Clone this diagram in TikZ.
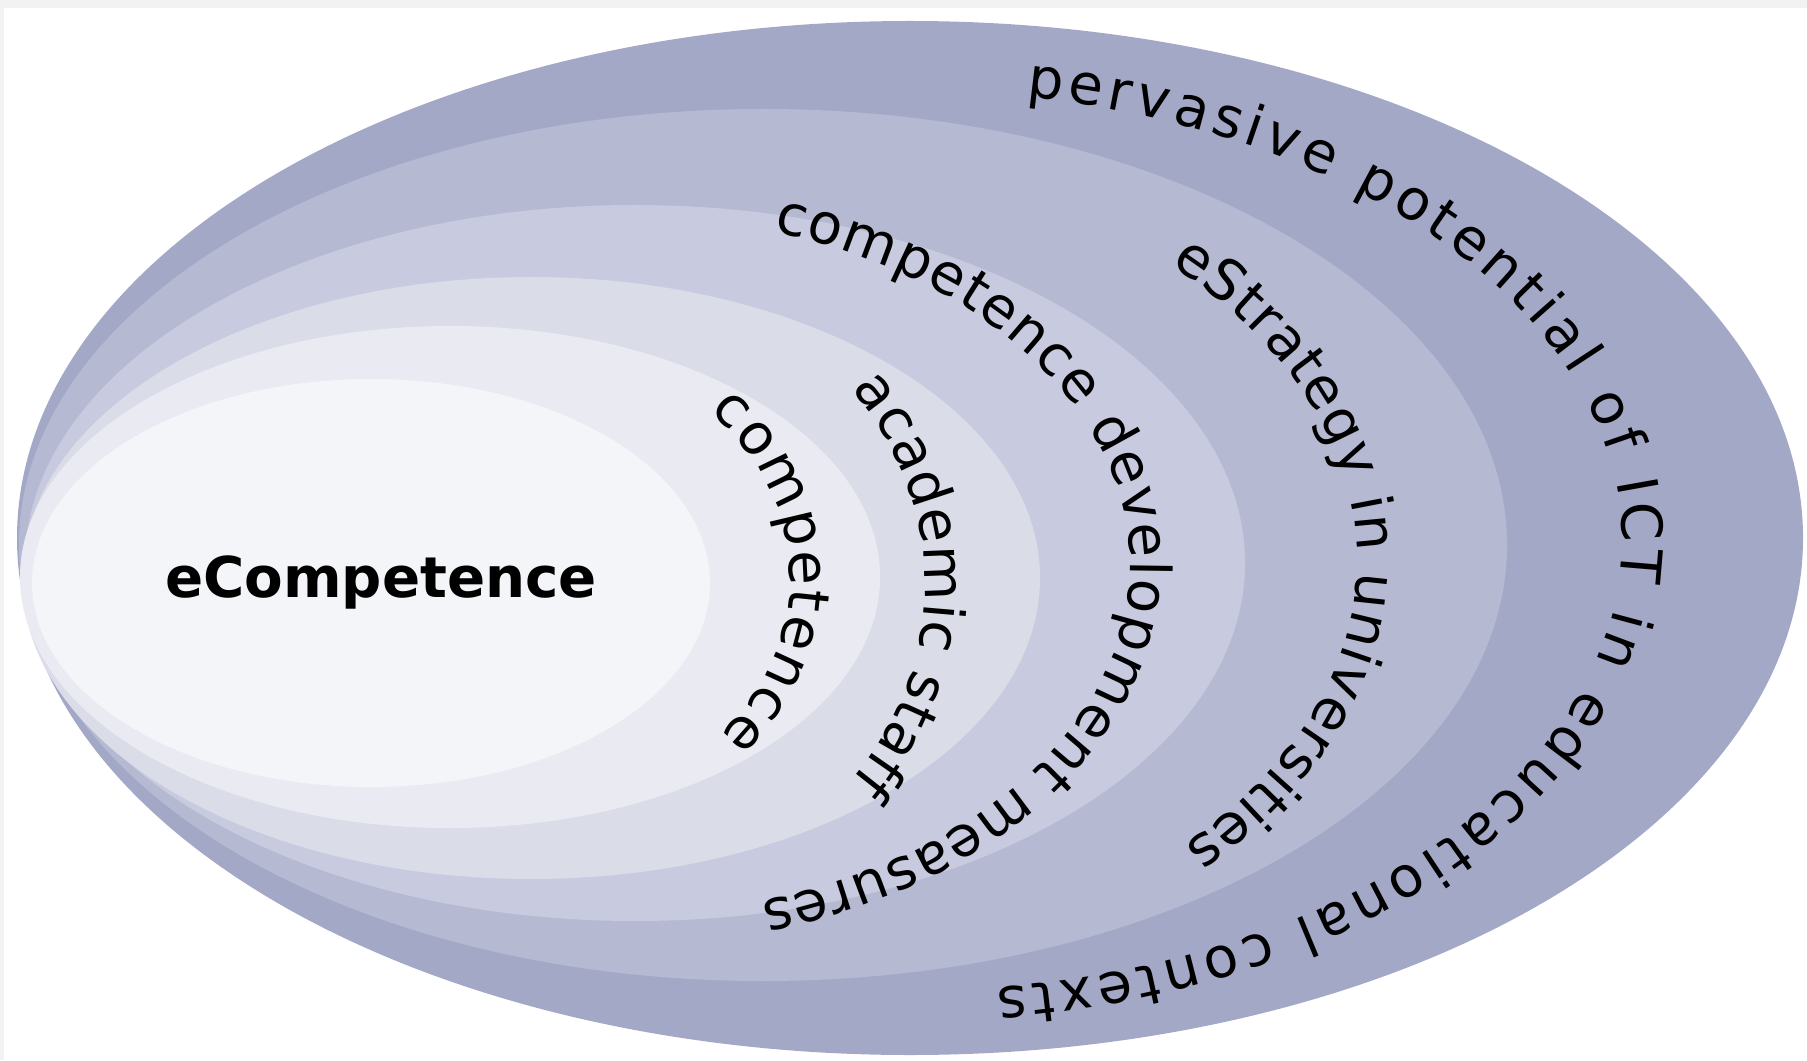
\documentclass[tikz,border=0pt]{standalone}
\usepackage{fontspec}
\setmainfont{DejaVu Sans}
\usetikzlibrary{decorations.text}
\definecolor{layerA}{HTML}{A4A8C7}
\definecolor{layerB}{HTML}{B5BAD2}
\definecolor{layerC}{HTML}{C8CBDF}
\definecolor{layerD}{HTML}{DADCE8}
\definecolor{layerE}{HTML}{EAEBF2}
\definecolor{layerF}{HTML}{F4F5F9}
\definecolor{frame}{HTML}{F2F2F2}
\newcommand\curvefont{\fontsize{16}{19}\selectfont}
\begin{document}
\begin{tikzpicture}[x=0.01cm, y=0.01cm,
  curved/.style={decorate, decoration={text along path, text align=fit to path, text={|\curvefont|#1}}}]
  \useasboundingbox (0,0) rectangle (1807,1060);
  \fill[frame] (0,1052) rectangle (1807,1060);
  \fill[frame] (0,0) rectangle (4,1060);
  % Nested rings, outermost first
  \foreach \c/\x/\y/\a/\b in {layerA/910/522/893/517, layerB/763/515/744/436,
                              layerC/635/497/610/358, layerD/531/482/509/301,
                              layerE/450/483/430/251, layerF/371/477/339/204}{
    \fill[\c] (\x,\y) ellipse [x radius=\a, y radius=\b];
  }
  % Labels along the rings
  \path[curved={pervasive potential of ICT in educational contexts}]
    (910,519) ++(80.6:712 and 450) arc[start angle=80.6, end angle=-83, x radius=712, y radius=450];
  \path[curved={eStrategy in universities}]
    (700,500) ++(44.3:657 and 423) arc[start angle=44.3, end angle=-42.5, x radius=657, y radius=423];
  \path[curved={competence development measures}]
    (620,495) ++(72.5:510 and 350) arc[start angle=72.5, end angle=-74, x radius=510, y radius=350];
  \path[curved={academic staff}]
    (540,475) ++(36:385 and 333) arc[start angle=36, end angle=-36, x radius=385, y radius=333];
  \path[curved={competence}]
    (470,482) ++(41.5:320 and 252) arc[start angle=41.5, end angle=-38.5, x radius=320, y radius=252];
  \node[font=\bfseries\curvefont, anchor=base] (core) at (381,463) {eCompetence};
\end{tikzpicture}
\end{document}
